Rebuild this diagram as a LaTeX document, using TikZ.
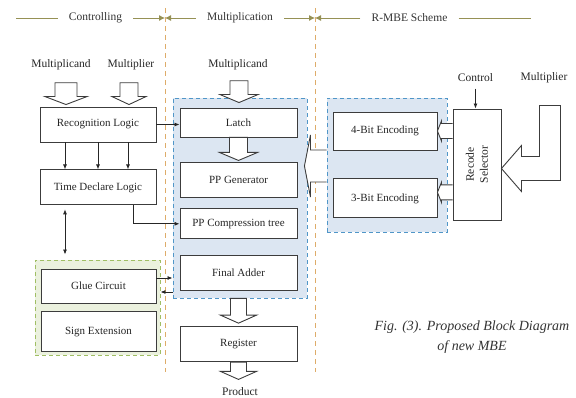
\documentclass[tikz,border=0pt]{standalone}
\usepackage{fontspec}
\setmainfont{Liberation Serif}
\usetikzlibrary{shapes,arrows.meta,positioning,calc}
\definecolor{boxline}{RGB}{60,60,60}
\definecolor{mulfill}{RGB}{220,230,242}
\definecolor{mulline}{RGB}{80,150,200}
\definecolor{gluefill}{RGB}{235,241,222}
\definecolor{glueline}{RGB}{160,190,100}
\definecolor{divline}{RGB}{222,172,105}
\definecolor{hdrline}{RGB}{150,145,85}
\tikzset{blk/.style={draw=boxline,line width=0.9pt,fill=white,text=black!85,
    minimum width=116pt,minimum height=35pt,inner sep=1pt,font=\fontsize{11}{13}\selectfont},
  lbl/.style={text=black!85,font=\fontsize{11.5}{13}\selectfont},
  hdr/.style={text=black!80,font=\fontsize{11.5}{13}\selectfont,inner xsep=11pt},
  hline/.style={draw=hdrline,line width=0.8pt},
  region/.style={line width=0.9pt,dash pattern=on 4pt off 3pt,inner sep=0pt},
  hollow/.style={draw=boxline,line width=0.9pt,fill=white,line join=miter},
  divider/.style={draw=divline,line width=0.7pt,dash pattern=on 5pt off 4pt},
  link/.style={draw=black!85,line width=0.8pt}
}
% hollow arrow pointing down: start, tip, shaft half width, head half width
\newcommand{\hdown}[4]{%
  \draw[hollow] let \p1=(#1), \p2=(#2) in
    (\x1-#3,\y1) -- (\x1-#3,\y2+8pt) -- (\x1-#4,\y2+8pt) -- (\x1,\y2)
    -- (\x1+#4,\y2+8pt) -- (\x1+#3,\y2+8pt) -- (\x1+#3,\y1) -- cycle;}
% hollow arrow pointing left: start, tip, shaft half width, head half width, head length
\newcommand{\hleft}[5]{%
  \draw[hollow] let \p1=(#1), \p2=(#2) in
    (\x1,\y1+#3) -- (\x2+#5,\y1+#3) -- (\x2+#5,\y1+#4) -- (\x2,\y1)
    -- (\x2+#5,\y1-#4) -- (\x2+#5,\y1-#3) -- (\x1,\y1-#3);}

\begin{document}
\begin{tikzpicture}[x=1pt,y=-1pt,>={Latex[length=5pt,width=4pt]}]
  \useasboundingbox (0,0) rectangle (576,398);

  % column headers
  \node[hdr] (hctl) at (95.5,18) {Controlling};
  \node[hdr] (hmul) at (240,18) {Multiplication};
  \node[hdr] (hrmbe) at (409.5,18) {R-MBE Scheme};
  \coordinate (hstart) at (16,18);
  \coordinate (hend) at (531,18);
  \coordinate (d1) at (165,18);
  \coordinate (d2) at (315,18);
  \draw[hline] (hstart) -- (hctl);
  \draw[hline,-{Latex[length=6pt,width=6pt]}] (hctl) -- (d1);
  \draw[hline,-{Latex[length=6pt,width=6pt]}] (hmul) -- (d1);
  \draw[hline,-{Latex[length=6pt,width=6pt]}] (hmul) -- (d2);
  \draw[hline,-{Latex[length=6pt,width=6pt]}] (hrmbe) -- (d2);
  \draw[hline] (hrmbe) -- (hend);
  \draw[divider] (165,8) -- (165,372);
  \draw[divider] (315,8) -- (315,372);

  % shaded regions
  \node[region,draw=mulline,fill=mulfill,minimum width=134pt,minimum height=200pt] (mbox) at (240,198) {};
  \node[region,draw=mulline,fill=mulfill,minimum width=120pt,minimum height=134pt] (rbox) at (387,165) {};
  \node[region,draw=glueline,fill=gluefill,minimum width=125pt,minimum height=95pt] (gbox) at (97.5,307.5) {};

  % controlling
  \node[lbl] (mcand1) at (61,65) {Multiplicand};
  \node[lbl] (mplier1) at (131,65) {Multiplier};
  \node[blk] (rec) at (98,124.5) {Recognition Logic};
  \node[blk] (tdl) [below=27pt of rec] {Time Declare Logic};
  \node[blk,minimum width=115pt,minimum height=34pt] (glue) at (98.5,286) {Glue Circuit};
  \node[blk,minimum width=115pt,minimum height=40pt] (sign) [below=8pt of glue] {Sign Extension};

  % multiplication
  \node[lbl] (mcand2) at (238,65) {Multiplicand};
  \node[blk,minimum width=117pt,minimum height=29pt] (latch) at (238.5,122.5) {Latch};
  \node[blk,minimum width=117pt] (ppg) [below=25pt of latch] {PP Generator};
  \node[blk,minimum width=117pt,minimum height=30pt] (ppc) [below=10pt of ppg] {PP Compression tree};
  \node[blk,minimum width=117pt] (fa) [below=16pt of ppc] {Final Adder};
  \node[blk,minimum width=117pt] (reg) [below=35pt of fa] {Register};
  \node[lbl] (product) at (240,392) {Product};

  % R-MBE scheme
  \node[blk,minimum width=104pt,minimum height=38pt] (enc4) at (385,131) {4-Bit Encoding};
  \node[blk,minimum width=104pt,minimum height=39pt] (enc3) [below=28pt of enc4] {3-Bit Encoding};
  \node[blk,minimum width=48pt,minimum height=111pt] (rsel) at (477,164.5) {};
  \node[rotate=90,align=center,text=black!85,font=\fontsize{11.5}{14}\selectfont] at (rsel.center) {Recode\\Selector};
  \node[lbl] (control) at (475.5,78) {Control};
  \node[lbl] (mplier2) at (544,78) {Multiplier};

  % caption
  \node[align=center,text=black!80,font=\fontsize{14}{20}\selectfont\itshape] (cap) at (472,337)
    {Fig. (3). Proposed Block Diagram\\of new MBE};

  % signal arrows
  \draw[link,->] (rec.east) -- (rec.east -| latch.west);
  \foreach \xo in {-33pt,0pt,30pt}
    \draw[link,->] ([xshift=\xo]rec.south) -- ([xshift=\xo]tdl.north);
  \draw[link,->] ([xshift=35pt]tdl.south) |- (ppc.west);
  \draw[link,<->,shorten <=4pt,shorten >=5pt] ([xshift=-33pt]tdl.south) -- ([xshift=-33pt]tdl.south |- gbox.north);
  \draw[link,->] ([yshift=8pt]glue.east) -- ([yshift=8pt]glue.east -| mbox.west);
  \draw[link,->] ([yshift=-6pt]glue.east -| mbox.west) -- ([yshift=-6pt]glue.east -| gbox.east);
  \draw[link,->,shorten <=3pt] (control) -- (control |- rsel.north);

  % data paths
  \hdown{[xshift=5pt,yshift=-9pt]mcand1.south}{[yshift=2pt]rec.north}{11pt}{21pt}
  \hdown{[xshift=-2pt,yshift=-9pt]mplier1.south}{[yshift=2pt]rec.north}{9pt}{17pt}
  \hdown{[xshift=1pt,yshift=-7pt]mcand2.south}{[yshift=5pt]latch.north}{9pt}{19pt}
  \hdown{latch.south}{[yshift=2pt]ppg.north}{9pt}{19pt}
  \hdown{reg.north |- mbox.south}{[yshift=3pt]reg.north}{8pt}{18pt}
  \hdown{reg.south}{[yshift=5pt]product.north}{8pt}{18pt}
  \hleft{rsel.west |- enc4.east}{enc4.east}{7.5pt}{10pt}{4pt}
  \hleft{[yshift=6pt]rsel.west |- enc3.east}{[yshift=6pt]enc3.east}{7.5pt}{10pt}{4pt}
  \hleft{[yshift=-1pt]rbox.west}{[xshift=-3pt,yshift=-1pt]mbox.east}{16pt}{31pt}{6pt}
  \draw[hollow] let \p1=(rsel.east) in (\x1,\y1-4pt) -- ++(20pt,23pt) -- ++(0,-11pt)
    -- ++(18pt,0) -- ++(0,51pt) -- ++(21pt,0) -- ++(0,-75pt) -- ++(-39pt,0) -- ++(0,-11pt) -- cycle;
\end{tikzpicture}
\end{document}
